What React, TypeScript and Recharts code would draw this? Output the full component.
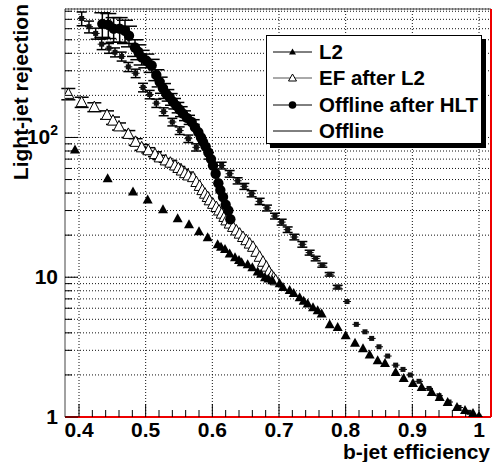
import React from 'react'
import { CartesianGrid, ErrorBar, ReferenceLine, Scatter, ScatterChart, XAxis, YAxis } from 'recharts'

const FONT = '"Liberation Sans", Arial, Helvetica, sans-serif'

// axis ticks
const X_TICKS = [
  0.4, 0.42, 0.44, 0.46, 0.48, 0.5, 0.52, 0.54, 0.56, 0.58, 0.6, 0.62, 0.64, 0.66, 0.68, 0.7,
  0.72, 0.74, 0.76, 0.78, 0.8, 0.82, 0.84, 0.86, 0.88, 0.9, 0.92, 0.94, 0.96, 0.98, 1.0,
]
const X_GRID = [0.4, 0.5, 0.6, 0.7, 0.8, 0.9, 1.0]
const Y_TICKS = [
  1, 2, 3, 4, 5, 6, 7, 8, 9, 10, 20, 30, 40, 50, 60, 70, 80, 90, 100, 200, 300, 400, 500, 600, 700, 800,
]
const Y_MAJOR = [1, 10, 100]

// L2 (filled triangles)
const L2_X = [
  0.394, 0.443, 0.481, 0.503, 0.526, 0.548, 0.565, 0.58, 0.593, 0.608, 0.613, 0.619, 0.626, 0.634, 0.64,
  0.644, 0.653, 0.66, 0.668, 0.673, 0.679, 0.684, 0.69, 0.701, 0.706, 0.716, 0.722, 0.731, 0.737, 0.743,
  0.751, 0.758, 0.764, 0.776, 0.788, 0.8, 0.814, 0.826, 0.836, 0.848, 0.859, 0.875, 0.887, 0.901, 0.914,
  0.929, 0.941, 0.953, 0.967, 0.979, 0.991, 1.0,
]
const L2_Y = [
  82, 51, 41, 36, 30.6, 26.4, 23.9, 21.3, 19.3, 17.2, 16.5, 15.9, 14.8, 13.9, 13.3,
  12.8, 12.4, 11.8, 11.0, 10.6, 10.0, 9.8, 9.5, 9.06, 8.5, 8.1, 7.7, 7.2, 6.8, 6.5,
  6.1, 5.8, 5.5, 4.6, 4.4, 3.85, 3.4, 3.1, 2.8, 2.55, 2.43, 2.1, 1.9, 1.75, 1.64,
  1.51, 1.39, 1.28, 1.18, 1.12, 1.07, 1.02,
]

// EF after L2 (open triangles)
const EF_X = [
  0.384, 0.404, 0.423, 0.442, 0.451, 0.46, 0.474, 0.485, 0.494, 0.504, 0.514, 0.521, 0.53, 0.537,
  0.544, 0.549, 0.554, 0.559, 0.564, 0.571, 0.576, 0.581, 0.585, 0.589, 0.593, 0.596, 0.601, 0.606,
  0.61, 0.614, 0.618, 0.621, 0.626, 0.631, 0.636, 0.641, 0.646, 0.651, 0.656, 0.661, 0.666, 0.671,
  0.676, 0.681, 0.685, 0.689, 0.692, 0.695,
]
const EF_Y = [
  205, 179, 165, 145, 132, 120, 106, 93, 85, 81, 76, 72, 68.5, 66,
  63, 60.5, 58, 55.5, 53.5, 52, 48, 45, 42, 39.6, 37.5, 35.5, 33.5, 31.8,
  30, 28.5, 27, 25.5, 24.2, 22.9, 21.6, 20.5, 19.4, 18.4, 17.4, 16.5, 15.2, 14.0,
  12.9, 11.9, 11.0, 10.3, 9.9, 9.5,
]
const EF_ERR = [19, 15, 12, 10, 8, 7, 6, 5, 4, 3.5, 3, 2.5, 2, 2, 1.5, 1.5, 1.2, 1, 1]

// Offline after HLT (filled circles)
const HLT_X = [
  0.435, 0.444, 0.452, 0.461, 0.469, 0.475, 0.484, 0.489, 0.494, 0.501, 0.509, 0.516, 0.521, 0.526,
  0.531, 0.536, 0.541, 0.546, 0.551, 0.556, 0.562, 0.569, 0.574, 0.579, 0.583, 0.586, 0.59, 0.594,
  0.598, 0.601, 0.605, 0.609, 0.612, 0.616, 0.62, 0.624, 0.627,
]
const HLT_Y = [
  650, 640, 600, 600, 580, 535, 440, 410, 375, 355, 327, 280, 250, 225,
  205, 194, 180, 169, 158, 148, 138, 129, 118, 109, 100, 93, 86, 78,
  70, 63, 55, 47, 42, 37.5, 33, 30, 26,
]
const HLT_ERR = [130, 130, 120, 120, 110, 90, 60, 50, 45, 40, 35, 25, 20, 18, 15, 12, 10, 9, 8, 7, 6, 5]

// Offline (small squares)
const OFF_X = [
  0.404, 0.415, 0.425, 0.434, 0.445, 0.454, 0.464, 0.474, 0.485, 0.496, 0.506, 0.516, 0.527, 0.54,
  0.551, 0.564, 0.576, 0.595, 0.614, 0.626, 0.638, 0.648, 0.659, 0.671, 0.682, 0.694, 0.704, 0.713,
  0.723, 0.735, 0.746, 0.755, 0.765, 0.776, 0.788, 0.802, 0.816, 0.829, 0.839, 0.85, 0.863, 0.875,
  0.886, 0.897, 0.91, 0.925, 0.94, 0.955, 0.97, 0.985, 1.0,
]
const OFF_Y = [
  710, 620, 555, 465, 435, 407, 380, 320, 288, 228, 203, 176, 153, 129,
  112, 98, 85, 74, 63, 55, 49, 44.7, 39.6, 34.9, 31.3, 27.4, 24.8, 21.9,
  19.4, 17.2, 15.0, 13.6, 12.2, 10.5, 8.5, 6.7, 4.6, 4.07, 3.65, 3.18, 2.73, 2.35,
  2.19, 2.0, 1.8, 1.6, 1.42, 1.28, 1.17, 1.08, 1.0,
]
const OFF_ERR = [
  80, 60, 50, 40, 35, 30, 28, 24, 20, 16, 14, 12, 10, 8, 7, 6, 5, 4, 3.5, 3, 2.5, 2.2, 2, 1.8,
  1.5, 1.3, 1.2, 1, 0.9, 0.8, 0.6, 0.5, 0.4, 0.3, 0.25,
]

const pts = (xs: number[], ys: number[], es?: number[]) =>
  xs.map((x, i) => ({ x, y: ys[i], err: es ? es[i] ?? 0 : 0 }))

const l2Data = pts(L2_X, L2_Y)
const efData = pts(EF_X, EF_Y, EF_ERR)
const hltData = pts(HLT_X, HLT_Y, HLT_ERR)
const offData = pts(OFF_X, OFF_Y, OFF_ERR)

const FilledTri = (p: any) => (
  <polygon
    points={`${p.cx},${p.cy - 5} ${p.cx + 5},${p.cy + 4} ${p.cx - 5},${p.cy + 4}`}
    fill="#000"
  />
)

const OpenTri = (p: any) => (
  <polygon
    points={`${p.cx},${p.cy - 6} ${p.cx + 5.5},${p.cy + 4.5} ${p.cx - 5.5},${p.cy + 4.5}`}
    fill="#fff"
    stroke="#000"
    strokeWidth={1}
  />
)

const Dot = (p: any) => <circle cx={p.cx} cy={p.cy} r={5.2} fill="#000" />

const SmallSq = (p: any) => (
  <g>
    <line x1={p.cx - 4} x2={p.cx + 4} y1={p.cy} y2={p.cy} stroke="#000" />
    <rect x={p.cx - 2.5} y={p.cy - 2.5} width={5} height={5} fill="#111" />
  </g>
)

const isMajorX = (v: number) => Math.abs(v * 10 - Math.round(v * 10)) < 1e-6

function XTick(props: any) {
  const { x, y, payload } = props
  const v = payload.value
  const major = isMajorX(v)
  return (
    <g>
      <line x1={x} x2={x} y1={y} y2={y - (major ? 13 : 7)} stroke="#000" />
      {major && (
        <text x={x} y={y + 20} textAnchor="middle" fontFamily={FONT} fontWeight="bold" fontSize={21} fill="#000">
          {v === 1 ? '1' : v.toFixed(1)}
        </text>
      )}
    </g>
  )
}

function YTick(props: any) {
  const { x, y, payload } = props
  const v = payload.value
  const major = Y_MAJOR.includes(v)
  return (
    <g>
      <line x1={x} x2={x + (major ? 13 : 7)} y1={y} y2={y} stroke="#000" />
      {major && (
        <text x={x - 7} y={y + 7} textAnchor="end" fontFamily={FONT} fontWeight="bold" fontSize={21} fill="#000">
          {v === 100 ? (
            <>
              10
              <tspan fontSize={14} dy={-9}>
                2
              </tspan>
            </>
          ) : (
            String(v)
          )}
        </text>
      )}
    </g>
  )
}

export default function App() {
  return (
    <div style={{ position: 'absolute', left: 0, top: 0, width: 496, height: 462, background: '#fff' }}>
      <ScatterChart width={496} height={462} margin={{ top: 9, right: 5, bottom: 0, left: 0 }}>
        <CartesianGrid vertical={false} stroke="#111" strokeDasharray="1 2" />
        {X_GRID.map((v) => (
          <ReferenceLine key={v} x={v} stroke="#111" strokeDasharray="1 2" />
        ))}
        <ReferenceLine y={830} stroke="#444" />
        <ReferenceLine x={1.018} stroke="#e00" strokeWidth={2} />
        <XAxis
          type="number"
          dataKey="x"
          domain={[0.379, 1.018]}
          allowDataOverflow
          ticks={X_TICKS}
          interval={0}
          tick={<XTick />}
          tickLine={false}
          tickSize={0}
          tickMargin={0}
          height={45}
          axisLine={{ stroke: '#e00', strokeWidth: 2 }}
        />
        <YAxis
          type="number"
          dataKey="y"
          scale="log"
          domain={[1, 830]}
          allowDataOverflow
          ticks={Y_TICKS}
          interval={0}
          tick={<YTick />}
          tickLine={false}
          tickSize={0}
          tickMargin={0}
          width={65}
          axisLine={{ stroke: '#444' }}
        />
        <Scatter name="Offline" data={offData} shape={SmallSq} isAnimationActive={false}>
          <ErrorBar dataKey="err" direction="y" width={5} stroke="#000" />
        </Scatter>
        <Scatter name="EF after L2" data={efData} shape={OpenTri} isAnimationActive={false}>
          <ErrorBar dataKey="err" direction="y" width={7} stroke="#000" />
        </Scatter>
        <Scatter name="L2" data={l2Data} shape={FilledTri} isAnimationActive={false} />
        <Scatter name="Offline after HLT" data={hltData} shape={Dot} isAnimationActive={false}>
          <ErrorBar dataKey="err" direction="y" width={8} stroke="#000" />
        </Scatter>
      </ScatterChart>

      {/* titles + legend */}
      <svg width={496} height={462} style={{ position: 'absolute', left: 0, top: 0, pointerEvents: 'none' }}>
        <text
          transform="translate(28,4) rotate(-90)"
          textAnchor="end"
          fontFamily={FONT}
          fontWeight="bold"
          fontSize={21}
          fill="#000"
        >
          Light-jet rejection
        </text>
        <text x={490} y={459} textAnchor="end" fontFamily={FONT} fontWeight="bold" fontSize={21} fill="#000">
          b-jet efficiency
        </text>

        <rect x={270} y={39} width={216} height={109} fill="#000" />
        <rect x={266.5} y={35.5} width={215} height={108} fill="#fff" stroke="#000" />
        <g fontFamily={FONT} fontWeight="bold" fontSize={20.5} fill="#000">
          <line x1={273} x2={312} y1={52} y2={52} stroke="#000" />
          <polygon points="292.5,48.5 296,54.5 289,54.5" fill="#000" />
          <text x={319} y={59}>L2</text>

          <line x1={273} x2={312} y1={78} y2={78} stroke="#555" />
          <polygon points="292.5,74 296.5,81 288.5,81" fill="#fff" stroke="#000" />
          <text x={319} y={85}>EF after L2</text>

          <line x1={273} x2={312} y1={105} y2={105} stroke="#000" />
          <circle cx={292.5} cy={105} r={3.8} fill="#000" />
          <text x={319} y={112}>Offline after HLT</text>

          <line x1={273} x2={312} y1={131} y2={131} stroke="#000" />
          <text x={319} y={138}>Offline</text>
        </g>
      </svg>
    </div>
  )
}
